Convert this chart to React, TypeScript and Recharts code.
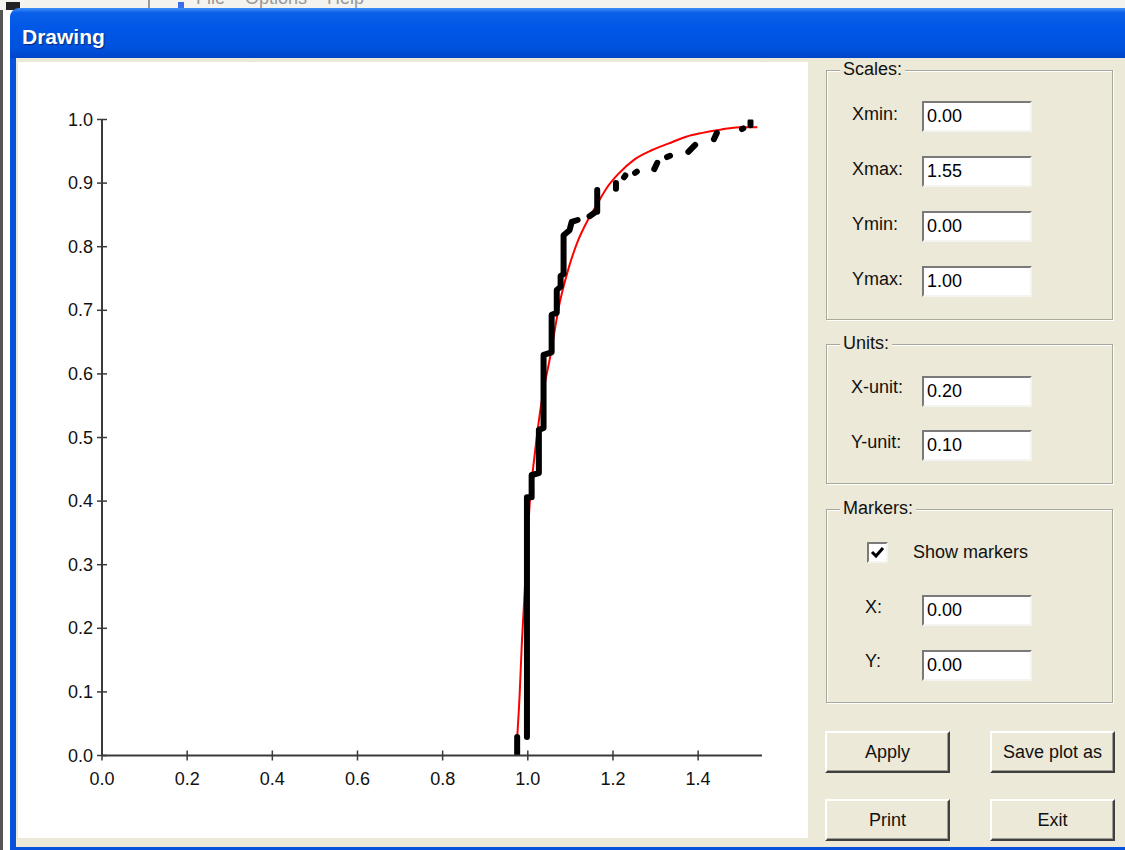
import { ComposedChart, Line, XAxis, YAxis } from 'recharts'

const xTicks = [0, 0.2, 0.4, 0.6, 0.8, 1.0, 1.2, 1.4]
const yTicks = [0, 0.1, 0.2, 0.3, 0.4, 0.5, 0.6, 0.7, 0.8, 0.9, 1.0]

// fitted distribution (red)
const fitX = [0.974, 0.981, 0.986, 0.991, 0.998, 1.005, 1.016, 1.033, 1.052, 1.075, 1.098, 1.117, 1.141, 1.162, 1.185, 1.212, 1.25, 1.292, 1.33, 1.372, 1.41, 1.452, 1.497, 1.539]
const fitY = [0.017, 0.098, 0.177, 0.237, 0.323, 0.401, 0.472, 0.559, 0.625, 0.712, 0.771, 0.808, 0.842, 0.866, 0.892, 0.914, 0.937, 0.952, 0.962, 0.973, 0.979, 0.984, 0.988, 0.988]

// empirical curve (black), null = break in the line
const empX = [0.975, 0.975, 0.987, 0.998, 0.998, 1.009, 1.009, 1.026, 1.026, 1.037, 1.037, 1.056, 1.056, 1.068, 1.068, 1.077, 1.077, 1.084, 1.084, 1.098, 1.103, 1.117, 1.13, 1.145, 1.16, 1.163, 1.163, 1.18, 1.207, 1.207, 1.216, 1.226, 1.229, 1.24, 1.252, 1.256, 1.27, 1.297, 1.304, 1.315, 1.327, 1.334, 1.355, 1.377, 1.393, 1.415, 1.437, 1.444, 1.47, 1.503, 1.506, 1.514, 1.523, 1.523]
const empY = [0.0, 0.029, null, 0.029, 0.406, 0.406, 0.441, 0.444, 0.512, 0.515, 0.63, 0.634, 0.693, 0.696, 0.732, 0.737, 0.754, 0.757, 0.818, 0.826, 0.839, 0.842, null, 0.848, 0.855, 0.855, 0.889, null, 0.891, 0.9, null, 0.909, 0.912, null, 0.916, 0.918, null, 0.922, 0.932, null, 0.941, 0.943, null, 0.949, 0.96, null, 0.969, 0.979, null, 0.985, 0.986, null, 0.991, 0.997]

const scaleFields = [
  { label: 'Xmin:', value: '0.00' },
  { label: 'Xmax:', value: '1.55' },
  { label: 'Ymin:', value: '0.00' },
  { label: 'Ymax:', value: '1.00' },
]
const unitFields = [
  { label: 'X-unit:', value: '0.20' },
  { label: 'Y-unit:', value: '0.10' },
]
const markerFields = [
  { label: 'X:', value: '0.00' },
  { label: 'Y:', value: '0.00' },
]

const fitData = fitX.map((x, i) => ({ x, y: fitY[i] }))
const empData = empX.map((x, i) => ({ x, y: empY[i] }))

const uiFont = '"Liberation Sans", Arial, sans-serif'
const beige = '#ECE9D8'

function XTick({ x, y, payload }: any) {
  return (
    <g>
      <line x1={x} y1={y - 5} x2={x} y2={y + 5} stroke="#3a3a3a" strokeWidth={1.5} />
      <text x={x} y={y + 29} textAnchor="middle" fontSize={18} fill="#111" fontFamily={uiFont}>
        {Number(payload.value).toFixed(1)}
      </text>
    </g>
  )
}

function YTick({ x, y, payload }: any) {
  return (
    <g>
      <line x1={x - 5} y1={y} x2={x + 5} y2={y} stroke="#3a3a3a" strokeWidth={1.5} />
      <text x={x - 9} y={y + 6} textAnchor="end" fontSize={18} fill="#111" fontFamily={uiFont}>
        {Number(payload.value).toFixed(1)}
      </text>
    </g>
  )
}

function TextBox({ top, value }: { top: number; value: string }) {
  return (
    <div
      style={{
        position: 'absolute', left: 922, top, width: 110, height: 31, boxSizing: 'border-box',
        background: '#fff', borderTop: '2px solid #7a7a7a', borderLeft: '2px solid #7a7a7a',
        borderBottom: '2px solid #f4f4f0', borderRight: '2px solid #f4f4f0',
        fontSize: 18, lineHeight: '27px', paddingLeft: 3, color: '#000',
      }}
    >
      {value}
    </div>
  )
}

function Label({ left, top, text }: { left: number; top: number; text: string }) {
  return (
    <div style={{ position: 'absolute', left, top: top - 11, fontSize: 18, lineHeight: '22px', color: '#111' }}>
      {text}
    </div>
  )
}

function Group({ top, height, title }: { top: number; height: number; title: string }) {
  return (
    <>
      <div
        style={{
          position: 'absolute', left: 826, top, width: 287, height, boxSizing: 'border-box',
          border: '1px solid #a8a79c', boxShadow: 'inset 1px 1px 0 #fff, 1px 1px 0 #fff',
        }}
      />
      <div
        style={{
          position: 'absolute', left: 840, top: top - 12, background: beige, padding: '0 3px',
          fontSize: 18, lineHeight: '22px', color: '#111',
        }}
      >
        {title}
      </div>
    </>
  )
}

function Button({ left, top, text }: { left: number; top: number; text: string }) {
  return (
    <div
      style={{
        position: 'absolute', left, top, width: 125, height: 42, boxSizing: 'border-box',
        background: beige, borderTop: '2px solid #fff', borderLeft: '2px solid #fff',
        borderBottom: '2px solid #404040', borderRight: '2px solid #404040',
        boxShadow: 'inset -1px -1px 0 #9d9d93',
        fontSize: 18, lineHeight: '38px', textAlign: 'center', color: '#111',
      }}
    >
      {text}
    </div>
  )
}

export default function App() {
  return (
    <div style={{ position: 'absolute', left: 0, top: 0, width: 1125, height: 850, overflow: 'hidden', background: '#fff', fontFamily: uiFont }}>
      {/* window behind */}
      <div style={{ position: 'absolute', left: 0, top: 0, width: 1125, height: 10, background: '#f4f3ee', overflow: 'hidden' }}>
        <div style={{ position: 'absolute', left: 6, top: 2, width: 14, height: 8, background: '#222' }} />
        <div style={{ position: 'absolute', left: 148, top: 0, width: 2, height: 10, background: '#999' }} />
        <div style={{ position: 'absolute', left: 178, top: 2, width: 6, height: 8, background: '#3a6ee8' }} />
        <div style={{ position: 'absolute', left: 196, top: -12, fontSize: 18, color: '#999', whiteSpace: 'pre' }}>File    Options    Help</div>
      </div>
      <div style={{ position: 'absolute', left: 0, top: 10, width: 3, height: 840, background: '#555' }} />

      {/* window frame */}
      <div
        style={{
          position: 'absolute', left: 10, top: 8, width: 1130, height: 50, borderTopLeftRadius: 9,
          background: 'linear-gradient(#3d8ef5 0%, #0a5fe9 10%, #0056e6 45%, #0052de 80%, #0044c8 100%)',
        }}
      />
      <div
        style={{
          position: 'absolute', left: 22, top: 24, color: '#fff', fontWeight: 'bold', fontSize: 21,
          fontFamily: uiFont, textShadow: '1px 1px 1px #0b2a7a', lineHeight: '26px',
        }}
      >
        Drawing
      </div>
      <div style={{ position: 'absolute', left: 10, top: 58, width: 6, height: 792, background: '#0852db' }} />
      <div style={{ position: 'absolute', left: 16, top: 58, width: 1109, height: 789, background: beige }} />
      <div style={{ position: 'absolute', left: 10, top: 847, width: 1115, height: 3, background: '#0852db' }} />

      {/* plot */}
      <div style={{ position: 'absolute', left: 18, top: 62, width: 790, height: 776, background: '#fff' }}>
        <ComposedChart width={790} height={776} margin={{ top: 57.5, right: 46, bottom: 42.5, left: 0 }}>
          <XAxis
            type="number"
            dataKey="x"
            domain={[0, 1.55]}
            ticks={xTicks}
            allowDataOverflow
            height={40}
            tickSize={0}
            tickMargin={0}
            tickLine={false}
            axisLine={{ stroke: '#3a3a3a', strokeWidth: 2 }}
            tick={<XTick />}
          />
          <YAxis
            type="number"
            dataKey="y"
            domain={[0, 1]}
            ticks={yTicks}
            allowDataOverflow
            width={84}
            tickSize={0}
            tickMargin={0}
            tickLine={false}
            axisLine={{ stroke: '#3a3a3a', strokeWidth: 2 }}
            tick={<YTick />}
          />
          <Line
            data={fitData}
            dataKey="y"
            type="monotone"
            stroke="#ff0000"
            strokeWidth={2}
            dot={false}
            activeDot={false}
            isAnimationActive={false}
          />
          <Line
            data={empData}
            dataKey="y"
            type="linear"
            stroke="#000"
            strokeWidth={6}
            strokeLinecap="round"
            strokeLinejoin="round"
            dot={false}
            activeDot={false}
            connectNulls={false}
            isAnimationActive={false}
          />
        </ComposedChart>
      </div>

      {/* controls */}
      <Group top={70} height={250} title="Scales:" />
      {scaleFields.map((f, i) => (
        <div key={f.label}>
          <Label left={852} top={114 + i * 55} text={f.label} />
          <TextBox top={101 + i * 55} value={f.value} />
        </div>
      ))}

      <Group top={344} height={140} title="Units:" />
      {unitFields.map((f, i) => (
        <div key={f.label}>
          <Label left={851} top={387 + i * 55} text={f.label} />
          <TextBox top={376 + i * 54} value={f.value} />
        </div>
      ))}

      <Group top={509} height={194} title="Markers:" />
      <div
        style={{
          position: 'absolute', left: 867, top: 542, width: 21, height: 21, boxSizing: 'border-box', background: '#fff',
          borderTop: '2px solid #7a7a7a', borderLeft: '2px solid #7a7a7a', borderBottom: '2px solid #f4f4f0', borderRight: '2px solid #f4f4f0',
        }}
      >
        <svg width={17} height={17} style={{ position: 'absolute', left: 0, top: 0 }}>
          <path d="M3 8 L7 12 L14 4" stroke="#000" strokeWidth={3} fill="none" />
        </svg>
      </div>
      <Label left={913} top={552} text="Show markers" />
      {markerFields.map((f, i) => (
        <div key={f.label}>
          <Label left={865} top={607 + i * 54} text={f.label} />
          <TextBox top={595 + i * 55} value={f.value} />
        </div>
      ))}

      <Button left={825} top={731} text="Apply" />
      <Button left={990} top={731} text="Save plot as" />
      <Button left={825} top={799} text="Print" />
      <Button left={990} top={799} text="Exit" />
    </div>
  )
}
